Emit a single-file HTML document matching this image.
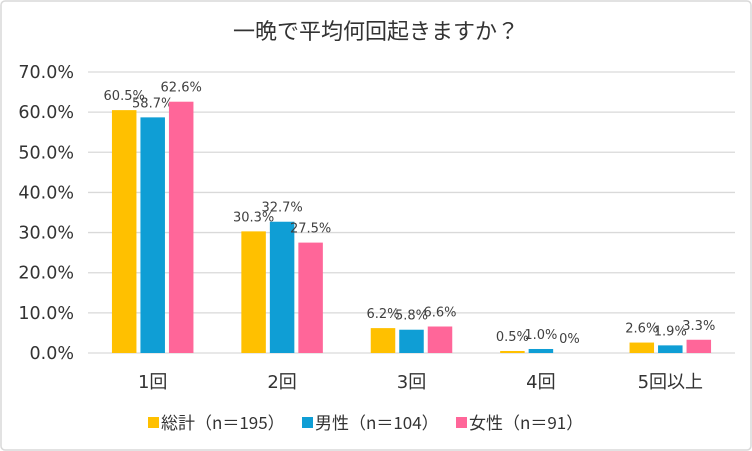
<!DOCTYPE html>
<html><head><meta charset="utf-8"><style>
body{margin:0;background:#fff}
svg{display:block;font-family:"DejaVu Sans","Noto Sans CJK JP",sans-serif}
</style></head><body>
<svg id="c" width="752" height="451">
<rect x="1" y="1" width="750" height="449" fill="#fff" stroke="#d9d9d9" stroke-width="1.5" rx="4"/>
<text x="376" y="39" text-anchor="middle" font-size="22" fill="#333" font-family="Noto Sans CJK JP, sans-serif">一晩で平均何回起きますか？</text>
<g id="grid"></g><g id="bars"></g>
<g id="legend"></g>
</svg>
<script>
const categories=["1回","2回","3回","4回","5回以上"];
const seriesNames=["総計（n＝195）","男性（n＝104）","女性（n＝91）"];
const total=[60.5,30.3,6.2,0.5,2.6];
const male=[58.7,32.7,5.8,1.0,1.9];
const female=[62.6,27.5,6.6,0,3.3];
const valueLabels=[["60.5%","30.3%","6.2%","0.5%","2.6%"],["58.7%","32.7%","5.8%","1.0%","1.9%"],["62.6%","27.5%","6.6%","0%","3.3%"]];
const ticks=[0,10,20,30,40,50,60,70];
const colors=["#FFC000","#0F9ED5","#FF6699"];
const series=[total,male,female];
const NS="http://www.w3.org/2000/svg";
const L=88,R=735,T=72,B=353,ymax=70;
const y=v=>B-(v/ymax)*(B-T);
const cw=(R-L)/categories.length;
const bw=24.5,gap=4;
const x=(i,s)=>L+cw*i+cw/2-(bw*1.5+gap)+s*(bw+gap);
function mk(tag,attrs,parent,txt){const e=document.createElementNS(NS,tag);for(const k in attrs)e.setAttribute(k,attrs[k]);if(txt!=null)e.textContent=txt;parent.appendChild(e);return e;}
const grid=document.getElementById('grid'),bars=document.getElementById('bars'),leg=document.getElementById('legend');
ticks.forEach(t=>{
 const l=mk('line',{x1:L,x2:R,y1:y(t),y2:y(t),stroke:'#d9d9d9','stroke-width':1.3},grid);
 
 
 const tx=mk('text',{x:74,y:y(t)+6,'text-anchor':'end','font-size':17.5,fill:'#333'},grid,t.toFixed(1)+'%');
 
 
});
categories.forEach((c,i)=>{
 const tx=mk('text',{x:L+cw*i+cw/2,y:388,'text-anchor':'middle','font-size':18,fill:'#333'},grid,c);
 
 
 series.forEach((d,s)=>{
  const r=mk('rect',{x:x(i,s),y:y(d[i]),width:bw,height:B-y(d[i]),fill:colors[s]},bars);
  
  
  const lb=mk('text',{x:x(i,s)+bw/2,y:y(d[i])-10,'text-anchor':'middle','font-size':13,fill:'#404040'},bars,valueLabels[s][i]);
  
  
 });
});
const lx=[148,302,456];
seriesNames.forEach((n,s)=>{
 const r=mk('rect',{x:lx[s],y:417,width:11,height:11,fill:colors[s]},leg);
 
 
 const t=mk('text',{x:lx[s]+13,y:429,'font-size':17,fill:'#333','font-family':'Noto Sans CJK JP, sans-serif'},leg,n);
 
 
});
</script>
</body></html>
